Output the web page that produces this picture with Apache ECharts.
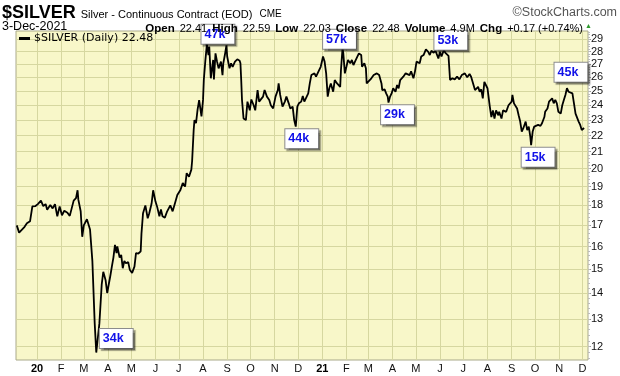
<!DOCTYPE html>
<html>
<head>
<meta charset="utf-8">
<script src="https://cdn.jsdelivr.net/npm/echarts@6/dist/echarts.min.js"></script>
<style>
  html, body { margin: 0; padding: 0; background: #fff; }
  #chart { width: 620px; height: 376px; }
</style>
</head>
<body>
<div id="chart"></div>
<script>
// daily closes (dates / prices)
const dates = [
  '2019-12-06','2019-12-09','2019-12-16','2019-12-19','2019-12-23','2019-12-26','2019-12-30',
  '2020-01-02','2020-01-06','2020-01-09','2020-01-12','2020-01-14','2020-01-18','2020-01-21','2020-01-24','2020-01-27','2020-01-30',
  '2020-02-02','2020-02-05','2020-02-09','2020-02-12','2020-02-17','2020-02-20','2020-02-22','2020-02-23','2020-02-26','2020-02-28',
  '2020-03-01','2020-03-05','2020-03-09','2020-03-12','2020-03-15','2020-03-17','2020-03-21','2020-03-24','2020-03-26','2020-03-29','2020-03-31',
  '2020-04-04','2020-04-06','2020-04-08','2020-04-10','2020-04-12','2020-04-13','2020-04-16','2020-04-18','2020-04-20','2020-04-22','2020-04-24','2020-04-27','2020-04-29',
  '2020-05-02','2020-05-05','2020-05-07','2020-05-10','2020-05-13','2020-05-14','2020-05-16','2020-05-19','2020-05-22','2020-05-24','2020-05-27','2020-05-29',
  '2020-06-01','2020-06-03','2020-06-06','2020-06-08','2020-06-10','2020-06-13','2020-06-16','2020-06-20','2020-06-23','2020-06-26','2020-06-29',
  '2020-07-03','2020-07-06','2020-07-09','2020-07-11','2020-07-14','2020-07-17','2020-07-18','2020-07-20','2020-07-21','2020-07-23','2020-07-25','2020-07-27','2020-07-30',
  '2020-08-01','2020-08-02','2020-08-04','2020-08-06','2020-08-08','2020-08-09','2020-08-11','2020-08-14','2020-08-15','2020-08-17','2020-08-19','2020-08-21','2020-08-24','2020-08-26','2020-08-27','2020-08-29','2020-08-31',
  '2020-09-01','2020-09-04','2020-09-06','2020-09-08','2020-09-11','2020-09-14','2020-09-17','2020-09-18','2020-09-19','2020-09-20','2020-09-22','2020-09-25','2020-09-27','2020-09-30',
  '2020-10-02','2020-10-05','2020-10-07','2020-10-10','2020-10-12','2020-10-14','2020-10-17','2020-10-19','2020-10-22','2020-10-25','2020-10-27','2020-10-30',
  '2020-11-02','2020-11-05','2020-11-06','2020-11-08','2020-11-11','2020-11-14','2020-11-16','2020-11-19','2020-11-21','2020-11-24','2020-11-26','2020-11-28','2020-11-30',
  '2020-12-02','2020-12-05','2020-12-07','2020-12-09','2020-12-11','2020-12-14','2020-12-16','2020-12-18','2020-12-20','2020-12-22','2020-12-24','2020-12-26','2020-12-28','2020-12-30',
  '2021-01-02','2021-01-04','2021-01-06','2021-01-08','2021-01-10','2021-01-12','2021-01-15','2021-01-17','2021-01-20','2021-01-22','2021-01-24','2021-01-25','2021-01-27','2021-01-28','2021-01-30',
  '2021-02-01','2021-02-03','2021-02-06','2021-02-08','2021-02-10','2021-02-12','2021-02-14','2021-02-17','2021-02-20','2021-02-21','2021-02-24','2021-02-26','2021-02-27',
  '2021-03-01','2021-03-05','2021-03-08','2021-03-10','2021-03-12','2021-03-15','2021-03-18','2021-03-19','2021-03-22','2021-03-24','2021-03-26','2021-03-27','2021-03-29','2021-03-31',
  '2021-04-02','2021-04-05','2021-04-07','2021-04-09','2021-04-11','2021-04-13','2021-04-15','2021-04-18','2021-04-20','2021-04-23','2021-04-25','2021-04-28','2021-04-30',
  '2021-05-02','2021-05-04','2021-05-06','2021-05-08','2021-05-11','2021-05-14','2021-05-17','2021-05-19','2021-05-21','2021-05-24','2021-05-26','2021-05-30',
  '2021-06-01','2021-06-03','2021-06-06','2021-06-08','2021-06-10','2021-06-12','2021-06-14','2021-06-17','2021-06-20','2021-06-23','2021-06-26','2021-06-29',
  '2021-07-01','2021-07-03','2021-07-06','2021-07-09','2021-07-11','2021-07-13','2021-07-16','2021-07-17','2021-07-20','2021-07-22','2021-07-24','2021-07-26','2021-07-28','2021-07-30',
  '2021-08-01','2021-08-04','2021-08-06','2021-08-08','2021-08-10','2021-08-12','2021-08-15','2021-08-16','2021-08-19','2021-08-21','2021-08-23','2021-08-25','2021-08-28','2021-08-30',
  '2021-09-01','2021-09-02','2021-09-04','2021-09-06','2021-09-08','2021-09-10','2021-09-12','2021-09-14','2021-09-16','2021-09-19','2021-09-21','2021-09-23','2021-09-25','2021-09-26','2021-09-28','2021-09-30',
  '2021-10-02','2021-10-05','2021-10-08','2021-10-10','2021-10-13','2021-10-14','2021-10-17','2021-10-19','2021-10-21','2021-10-23','2021-10-25','2021-10-27','2021-10-29','2021-10-31',
  '2021-11-03','2021-11-05','2021-11-07','2021-11-09','2021-11-11','2021-11-13','2021-11-15','2021-11-18','2021-11-20','2021-11-22','2021-11-24','2021-11-26','2021-11-28','2021-11-30',
  '2021-12-02','2021-12-03'
];
const closes = [
  17.0,16.65,16.93,17.1,17.2,17.95,17.97,
  18.07,18.25,17.97,18.07,17.78,18.02,17.85,18.07,17.45,17.95,
  17.5,17.73,17.63,17.47,18.25,18.38,18.8,18.3,17.7,16.45,
  17.0,17.3,16.8,15.35,12.83,11.8,12.83,14.35,14.88,14.52,14.0,
  14.7,15.1,15.5,16.07,15.7,16.0,15.5,15.62,15.03,15.35,15.25,15.3,14.97,
  14.83,15.1,15.7,15.68,15.78,16.6,17.6,18.0,17.35,17.6,18.1,18.8,
  18.2,17.95,17.45,17.8,17.45,17.38,17.7,18.0,17.7,18.12,18.55,
  18.82,19.2,19.0,19.75,19.55,19.95,20.45,22.35,23.0,22.8,23.7,24.35,23.25,
  24.37,25.8,27.3,28.6,27.72,28.4,25.93,27.33,25.85,27.85,27.2,26.68,27.2,26.17,27.07,27.72,28.5,
  27.6,26.68,27.07,26.8,27.2,27.38,27.27,27.07,25.8,24.37,23.1,23.0,24.25,23.65,
  24.4,24.0,23.65,25.07,24.25,24.25,24.6,25.07,24.6,24.37,24.0,23.78,
  24.6,25.07,25.55,24.72,23.9,24.25,24.6,24.13,23.78,23.9,23.0,22.57,23.9,
  24.13,24.25,24.65,24.25,24.25,24.83,25.55,26.17,26.05,26.3,26.05,26.3,26.45,26.8,
  27.6,27.2,26.3,24.6,25.2,25.55,24.95,25.8,25.55,25.67,25.3,26.55,28.27,27.85,26.3,
  26.8,27.33,27.07,27.33,26.93,27.2,27.07,27.85,27.72,26.8,27.07,26.68,25.55,
  25.43,25.93,26.17,26.05,26.3,26.17,25.55,25.07,25.12,24.83,24.6,24.18,24.6,24.83,
  25.2,24.95,25.43,25.2,25.8,25.67,26.05,26.3,26.45,26.17,26.45,25.93,26.45,
  27.2,27.33,27.07,27.6,27.72,28.17,27.98,27.72,28.06,27.9,28.1,27.45,
  27.98,27.6,28.1,27.9,27.98,27.65,25.8,25.93,25.85,26.05,25.85,26.17,
  26.05,26.3,26.0,26.25,26.05,26.17,25.07,24.95,25.3,24.95,25.12,24.48,25.67,25.55,
  25.2,23.9,23.2,23.65,23.1,23.65,23.32,23.55,23.1,23.65,23.78,23.55,24.0,23.9,
  24.25,24.72,24.13,24.0,23.78,23.32,22.9,22.25,22.47,22.9,22.35,22.57,21.92,21.4,22.25,22.57,
  22.47,22.68,22.62,22.79,23.2,23.55,23.78,24.25,24.37,24.48,24.13,24.37,24.13,23.55,
  23.43,24.0,24.37,24.72,25.2,24.95,25.07,24.83,24.13,23.43,23.32,22.9,22.68,22.35,
  22.31,22.48
];

// volume call-outs
const annoDates = ['2020-03-17','2020-08-06','2020-11-28','2021-01-27','2021-03-27','2021-06-06','2021-09-26','2021-11-11'];
const annoLabels = ['34k','47k','44k','57k','29k','53k','15k','45k'];

// axes
const priceTicks = [12,13,14,15,16,17,18,19,20,21,22,23,24,25,26,27,28,29];
const monthTicks = [
  '2020-01','2020-02','2020-03','2020-04','2020-05','2020-06','2020-07','2020-08','2020-09','2020-10','2020-11','2020-12',
  '2021-01','2021-02','2021-03','2021-04','2021-05','2021-06','2021-07','2021-08','2021-09','2021-10','2021-11','2021-12'
];
const monthLetters = ['J','F','M','A','M','J','J','A','S','O','N','D'];

const lastClose = closes[closes.length - 1];
const seriesName = '$SILVER (Daily) ' + lastClose.toFixed(2);

function ts(s) {
  const p = s.split('-');
  return new Date(+p[0], +p[1] - 1, p[2] ? +p[2] : 1).getTime();
}

// log price scale: plot ln(price) on a linear axis
const lineData = dates.map((d, i) => [ts(d), Math.log(closes[i])]);
const monthVals = monthTicks.map(ts);
const tickVals = priceTicks.map(v => Math.log(v));
const minorVals = [];
for (let v = 11.6; v < 29.7; v += 0.2) minorVals.push(Math.log(v));

// label box offsets (px) for each call-out
const annoOffsets = [[20, -14], [11, -10], [6, 12], [-3, -9], [9, 12], [7, -10], [7, 12], [4, -16]];

const markData = annoDates.map((d, i) => {
  const idx = dates.indexOf(d);
  return {
    coord: [ts(d), Math.log(closes[idx])],
    value: annoLabels[i],
    label: { offset: annoOffsets[i] }
  };
});

const chart = echarts.init(document.getElementById('chart'), null, { renderer: 'canvas' });

const sans = 'Arial, "Liberation Sans", sans-serif';

chart.setOption({
  animation: false,
  backgroundColor: '#ffffff',
  textStyle: { fontFamily: sans },
  title: [
    {
      left: 2, top: 4, padding: 0,
      text: '{a|$SILVER} {b|Silver - Continuous Contract (EOD)} {c|CME}',
      textStyle: {
        rich: {
          a: { fontSize: 18, fontWeight: 'bold', color: '#000', fontFamily: sans },
          b: { fontSize: 11, fontWeight: 'normal', color: '#000', fontFamily: sans, padding: [3, 0, 0, 0] },
          c: { fontSize: 10, fontWeight: 'normal', color: '#000', fontFamily: sans, padding: [3, 0, 0, 2] }
        }
      }
    },
    {
      right: 3, top: 6, padding: 0,
      text: '\u00a9StockCharts.com',
      textStyle: { fontSize: 12.5, fontWeight: 'normal', color: '#555', fontFamily: sans }
    },
    {
      left: 2, top: 20, padding: 0,
      text: '3-Dec-2021',
      textStyle: { fontSize: 12.5, fontWeight: 'normal', color: '#000', fontFamily: sans }
    },
    {
      right: 37, top: 20, padding: 0,
      text: '{l|Open} {v|22.41} {l|High} {v|22.59} {l|Low} {v|22.03} {l|Close} {v|22.48} {l|Volume} {v|4.9M} {l|Chg} {v|+0.17 (+0.74%)}',
      textStyle: {
        rich: {
          l: { fontSize: 11.5, fontWeight: 'bold', color: '#000', fontFamily: sans },
          v: { fontSize: 11, fontWeight: 'normal', color: '#000', fontFamily: sans }
        }
      }
    },
    {
      right: 28, top: 23, padding: 0,
      text: '\u25b2',
      textStyle: { fontSize: 7, fontWeight: 'normal', color: '#2e9a2e' }
    }
  ],
  legend: {
    left: 19, top: 31, padding: [2, 0, 0, 0],
    icon: 'rect', itemWidth: 11, itemHeight: 3, itemGap: 0,
    textStyle: { fontSize: 11, color: '#000', fontFamily: '"DejaVu Sans", Verdana, sans-serif', padding: [0, 0, 0, -1] },
    data: [seriesName]
  },
  grid: {
    left: 16, right: 32, top: 31, bottom: 16,
    show: true, backgroundColor: '#f8f7c9', borderColor: '#a9a98a', borderWidth: 1
  },
  xAxis: {
    type: 'value',
    min: ts('2019-12-05'),
    max: ts('2021-12-08'),
    axisLine: { show: false },
    axisTick: { show: false, customValues: monthVals },
    splitLine: { show: true, lineStyle: { color: '#d6d7a0', width: 1 } },
    axisLabel: {
      customValues: monthVals,
      margin: 3,
      fontSize: 11,
      color: '#111',
      formatter: function (v) {
        const d = new Date(v);
        if (d.getMonth() === 0) return '{y|' + String(d.getFullYear()).slice(2) + '}';
        return monthLetters[d.getMonth()];
      },
      rich: { y: { fontSize: 11, fontWeight: 'bold', color: '#000' } }
    }
  },
  yAxis: [
    {
      type: 'value',
      position: 'right',
      min: Math.log(11.55),
      max: Math.log(29.7),
      axisLine: { show: false },
      axisTick: { show: true, customValues: tickVals, length: 3, lineStyle: { color: '#999' } },
      axisLabel: {
        customValues: tickVals,
        margin: 3,
        fontSize: 11,
        color: '#111',
        formatter: v => String(Math.round(Math.exp(v)))
      },
      splitLine: { show: true, lineStyle: { color: '#d6d7a0', width: 1 } }
    },
    {
      type: 'value',
      position: 'right',
      min: Math.log(11.55),
      max: Math.log(29.7),
      axisLine: { show: false },
      axisTick: { show: true, customValues: minorVals, length: 2, lineStyle: { color: '#bbb' } },
      axisLabel: { show: false },
      splitLine: { show: false }
    }
  ],
  series: [
    {
      name: seriesName,
      type: 'line',
      data: lineData,
      yAxisIndex: 0,
      showSymbol: false,
      symbol: 'none',
      color: '#000',
      lineStyle: { color: '#000', width: 1.8 },
      markPoint: {
        symbol: 'rect',
        symbolSize: 0,
        silent: true,
        label: {
          show: true,
          position: 'inside',
          formatter: p => p.value,
          backgroundColor: '#ffffff',
          borderColor: '#8c8c8c',
          borderWidth: 1,
          padding: [3, 9, 3, 3],
          color: '#1111e8',
          fontWeight: 'bold',
          fontSize: 12.5,
          fontFamily: sans,
          lineHeight: 13,
          shadowColor: 'rgba(0,0,0,0.35)',
          shadowOffsetX: 2,
          shadowOffsetY: 2,
          shadowBlur: 1
        },
        data: markData
      }
    }
  ]
});
</script>
</body>
</html>
